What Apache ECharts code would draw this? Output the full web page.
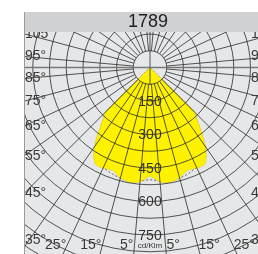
<!DOCTYPE html>
<html>
<head>
<meta charset="utf-8">
<script src="https://cdn.jsdelivr.net/npm/echarts@6/dist/echarts.min.js"></script>
<style>
  html, body { margin: 0; padding: 0; background: #fff; }
  #chart { width: 258px; height: 254px; }
</style>
</head>
<body>
<div id="chart"></div>
<script>
const title = "1789";
const unit = "cd/Klm";

// C0 plane (yellow fill), gamma from nadir in degrees, values in cd/klm
const c0Gammas = [0, 2.5, 5, 7.5, 10, 12.5, 15, 17.5, 20, 22.5, 25, 27.5, 30, 32.5, 35, 37.5, 40, 42.5, 45, 47.5];
const c0Values = [485, 500, 515, 522, 522, 518, 512, 500, 490, 492, 497, 500, 496, 470, 435, 390, 346, 310, 282, 0];

// C90 plane (dashed)
const c90Gammas = [0, 5, 10, 15, 20, 25, 30, 35, 40, 45, 47.5];
const c90Values = [502, 510, 515, 514, 505, 495, 488, 430, 340, 275, 0];

// grid + labels
const radiusLabels = [150, 300, 450, 600, 750];
const gridAngles = [5, 15, 25, 35, 45, 55, 65, 75, 85, 95, 105, 115, 125, 135, 145, 155, 165, 175];
const angleLabels = [5, 15, 25, 35, 45, 55, 65, 75, 85, 95, 105];
const crossAngles = [0, 90, 180, 270];

const FRAME_L = 24;
const FONT = '"Liberation Sans", Arial, sans-serif';

// gamma on the left side = angle value, right side = 360 - gamma
const mirror = (gs, vs) => {
  const right = gs.map((g, i) => [vs[i], 360 - g]).reverse();
  const left = gs.map((g, i) => [vs[i], g]);
  return right.concat(left);
};

const bothSides = (list) => list.concat(list.map((a) => 360 - a));

const chart = echarts.init(document.getElementById("chart"));

const option = {
  backgroundColor: "#e6e7e9",
  animation: false,
  polar: { center: [150, 67.5], radius: 234.5 },
  angleAxis: {
    type: "value",
    min: 0,
    max: 360,
    startAngle: 270,
    clockwise: true,
    axisLine: { show: false },
    axisTick: { show: false },
    axisLabel: { show: false },
    splitLine: { show: false },
  },
  radiusAxis: {
    type: "value",
    min: 0,
    max: 1050,
    interval: 75,
    z: 3,
    axisLine: { show: false },
    axisTick: { show: false },
    axisLabel: { show: false },
    splitLine: { show: true, lineStyle: { color: "#2b2b2b", width: 0.8 } },
  },
  series: [
    {
      name: "C90",
      type: "line",
      coordinateSystem: "polar",
      data: mirror(c90Gammas, c90Values),
      symbol: "none",
      silent: true,
      z: 1,
      lineStyle: { type: [2, 2], color: "#444", width: 0.8 },
    },
    {
      name: "C0",
      type: "line",
      coordinateSystem: "polar",
      data: mirror(c0Gammas, c0Values),
      symbol: "none",
      silent: true,
      z: 2,
      lineStyle: { color: "#d8c800", width: 0.5 },
      areaStyle: { color: "#fff200", opacity: 1 },
    },
    {
      // radial grid lines, starting at the 75 circle
      type: "custom",
      coordinateSystem: "polar",
      silent: true,
      z: 4,
      data: bothSides(gridAngles).map((a) => [1050, a]),
      renderItem: (params, api) => {
        const a = api.value(1);
        const p0 = api.coord([75, a]);
        const p1 = api.coord([api.value(0), a]);
        return {
          type: "line",
          shape: { x1: p0[0], y1: p0[1], x2: p1[0], y2: p1[1] },
          style: { stroke: "#2b2b2b", lineWidth: 0.8 },
        };
      },
    },
    {
      // cross through the centre
      type: "custom",
      coordinateSystem: "polar",
      silent: true,
      z: 4,
      data: crossAngles.map((a) => [a === 0 ? 75 : 1050, a]),
      renderItem: (params, api) => {
        const a = api.value(1);
        const p0 = api.coord([0, a]);
        const p1 = api.coord([api.value(0), a]);
        const horiz = a === 90 || a === 270;
        return {
          type: "line",
          shape: { x1: p0[0], y1: p0[1], x2: p1[0], y2: p1[1] },
          style: { stroke: horiz ? "#777" : "#2b2b2b", lineWidth: horiz ? 1.6 : 0.8 },
        };
      },
    },
    {
      // angle labels along the frame
      type: "custom",
      coordinateSystem: "polar",
      silent: true,
      z: 6,
      data: bothSides(angleLabels).map((a) => [1050, a]),
      renderItem: (params, api) => {
        const v = api.value(1);
        const c = api.coord([0, v]);
        const e = api.coord([api.value(0), v]);
        const dx = e[0] - c[0];
        const dy = e[1] - c[1];
        const left = v <= 180;
        const g = left ? v : 360 - v;
        let x, y, align;
        if (g >= 35) {
          const edgeX = left ? FRAME_L : 2 * c[0] - FRAME_L;
          y = Math.min(c[1] + (dy * (edgeX - c[0])) / dx, 240);
          x = left ? FRAME_L + 1 : 251;
          align = "left";
        } else {
          y = 245;
          x = c[0] + (dx * (y - c[1])) / dy + (left ? -1 : 1);
          align = left ? "right" : "left";
        }
        return {
          type: "text",
          style: {
            x: x,
            y: y,
            text: g + "°",
            align: align,
            verticalAlign: "middle",
            font: "14px " + FONT,
            fill: "#3a3a3a",
          },
        };
      },
    },
    {
      // radius labels on the nadir line
      type: "custom",
      coordinateSystem: "polar",
      silent: true,
      z: 6,
      data: radiusLabels.map((r) => [r, 0]),
      renderItem: (params, api) => {
        const r = api.value(0);
        const p = api.coord([r, 0]);
        const children = [
          {
            type: "text",
            style: {
              x: p[0],
              y: p[1] + 1,
              text: String(r),
              align: "center",
              verticalAlign: "middle",
              font: "14px " + FONT,
              fill: "#333",
            },
          },
        ];
        if (params.dataIndex === radiusLabels.length - 1) {
          children.push({
            type: "text",
            style: {
              x: p[0],
              y: p[1] + 11,
              text: unit,
              align: "center",
              verticalAlign: "middle",
              font: "8px " + FONT,
              fill: "#333",
            },
          });
        }
        return { type: "group", children: children };
      },
    },
  ],
  graphic: [
    { type: "rect", z: 100, shape: { x: 0, y: 0, width: FRAME_L, height: 254 }, style: { fill: "#fff" } },
    { type: "rect", z: 100, shape: { x: 0, y: 0, width: 258, height: 12 }, style: { fill: "#fff" } },
    { type: "rect", z: 100, shape: { x: FRAME_L, y: 12, width: 258 - FRAME_L, height: 20 }, style: { fill: "#d0d1d3" } },
    {
      type: "text",
      z: 101,
      style: { x: 148, y: 22.5, text: title, align: "center", verticalAlign: "middle", font: "18px " + FONT, fill: "#222" },
    },
    {
      type: "line",
      z: 101,
      shape: { x1: FRAME_L + 0.5, y1: 12, x2: FRAME_L + 0.5, y2: 254 },
      style: { stroke: "#9a9a9a", lineWidth: 1 },
    },
  ],
};

chart.setOption(option);
window.addEventListener("resize", () => chart && chart.resize());
</script>
</body>
</html>
